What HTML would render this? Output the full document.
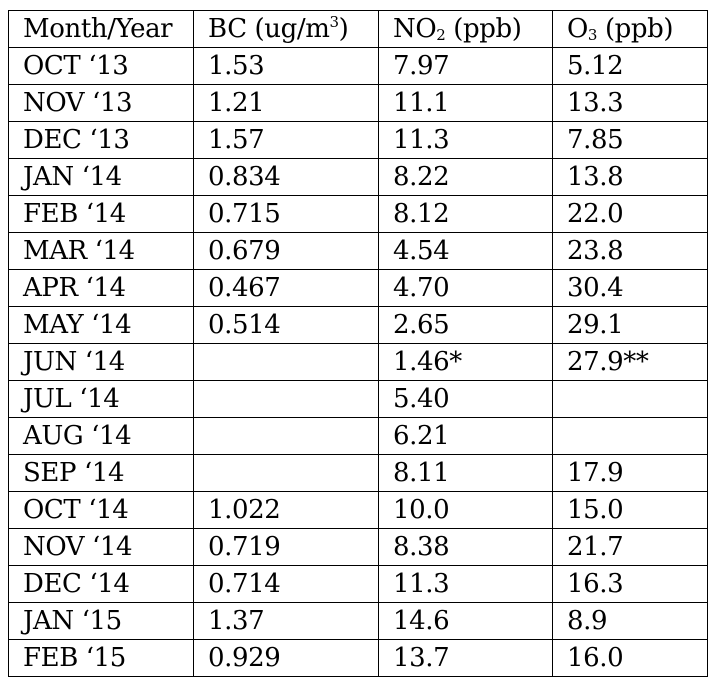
<!DOCTYPE html>
<html><head><meta charset="utf-8"><style>
body{margin:0;background:#fff;width:723px;height:686px;overflow:hidden}
table{position:absolute;left:8px;top:10px;border-collapse:collapse;font-family:"DejaVu Serif","Liberation Serif",serif;font-size:26px;color:#000}
td{border:1.5px solid #000;height:36px;padding:0 0 0 14px;line-height:36px;white-space:nowrap;letter-spacing:-0.4px}
sup{font-size:15px;vertical-align:10px;line-height:0}
sub{font-size:15px;vertical-align:-3px;line-height:0}
</style></head><body>
<table>
<colgroup><col style="width:185px"><col style="width:185px"><col style="width:174px"><col style="width:155px"></colgroup>
<tr><td>Month/Year</td><td>BC (ug/m<sup>3</sup>)</td><td>NO<sub>2</sub> (ppb)</td><td>O<sub>3</sub> (ppb)</td></tr>
<tr><td>OCT ‘13</td><td>1.53</td><td>7.97</td><td>5.12</td></tr>
<tr><td>NOV ‘13</td><td>1.21</td><td>11.1</td><td>13.3</td></tr>
<tr><td>DEC ‘13</td><td>1.57</td><td>11.3</td><td>7.85</td></tr>
<tr><td>JAN ‘14</td><td>0.834</td><td>8.22</td><td>13.8</td></tr>
<tr><td>FEB ‘14</td><td>0.715</td><td>8.12</td><td>22.0</td></tr>
<tr><td>MAR ‘14</td><td>0.679</td><td>4.54</td><td>23.8</td></tr>
<tr><td>APR ‘14</td><td>0.467</td><td>4.70</td><td>30.4</td></tr>
<tr><td>MAY ‘14</td><td>0.514</td><td>2.65</td><td>29.1</td></tr>
<tr><td>JUN ‘14</td><td></td><td>1.46*</td><td>27.9**</td></tr>
<tr><td>JUL ‘14</td><td></td><td>5.40</td><td></td></tr>
<tr><td>AUG ‘14</td><td></td><td>6.21</td><td></td></tr>
<tr><td>SEP ‘14</td><td></td><td>8.11</td><td>17.9</td></tr>
<tr><td>OCT ‘14</td><td>1.022</td><td>10.0</td><td>15.0</td></tr>
<tr><td>NOV ‘14</td><td>0.719</td><td>8.38</td><td>21.7</td></tr>
<tr><td>DEC ‘14</td><td>0.714</td><td>11.3</td><td>16.3</td></tr>
<tr><td>JAN ‘15</td><td>1.37</td><td>14.6</td><td>8.9</td></tr>
<tr><td>FEB ‘15</td><td>0.929</td><td>13.7</td><td>16.0</td></tr>
</table>
</body></html>
